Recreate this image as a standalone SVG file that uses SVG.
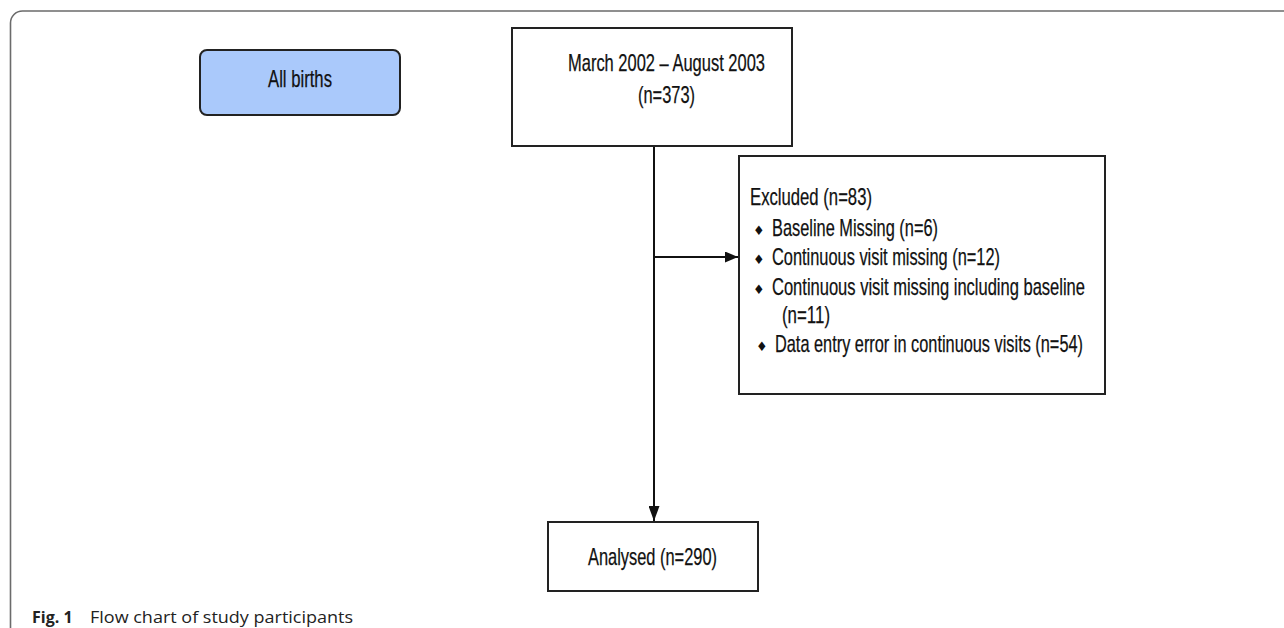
<svg xmlns="http://www.w3.org/2000/svg" width="1284" height="628" viewBox="0 0 1284 628">
  <defs>
    <style>
      .box { fill: #ffffff; stroke: #222222; stroke-width: 2; }
      .blue { fill: #aac9fb; stroke: #222222; stroke-width: 2; }
      .t { font-family: "Liberation Sans", Arial, sans-serif; font-size: 24px; fill: #111111; stroke: #111111; stroke-width: 0.25; }
      .b { font-family: "DejaVu Sans", sans-serif; font-size: 13px; fill: #111111; }
      .edge { stroke: #111111; stroke-width: 2; fill: none; }
      .cap { font-family: "Open Sans", "Noto Sans", sans-serif; font-size: 16px; fill: #222222; }
    </style>
    <marker id="ah" viewBox="0 0 13 11" refX="13" refY="5.5" markerWidth="13" markerHeight="11" markerUnits="userSpaceOnUse" orient="auto">
      <path d="M0,0 L13,5.5 L0,11 z" fill="#111111"/>
    </marker>
    <marker id="ah2" viewBox="0 0 15 11" refX="15" refY="5.5" markerWidth="15" markerHeight="11" markerUnits="userSpaceOnUse" orient="auto">
      <path d="M0,0 L15,5.5 L0,11 z" fill="#111111"/>
    </marker>
  </defs>
  <rect x="0" y="0" width="1284" height="628" fill="#ffffff"/>
  <g id="frame">
    <path d="M10.5,628 V23 A12,12 0 0 1 22.5,11 H1284" fill="none" stroke="#6b6b6b" stroke-width="1.6"/>
  </g>
  <g id="connectors">
    <line class="edge" x1="654" y1="146" x2="654" y2="521" marker-end="url(#ah2)"/>
    <line class="edge" x1="654" y1="257" x2="738" y2="257" marker-end="url(#ah)"/>
  </g>
  <g id="all-births">
    <rect class="blue" x="200" y="50" width="200" height="65" rx="7"/>
    <text class="t" x="268" y="87" textLength="64" lengthAdjust="spacingAndGlyphs">All births</text>
  </g>
  <g id="start">
    <rect class="box" x="512" y="28" width="280" height="118"/>
    <text class="t" x="568" y="71" textLength="197" lengthAdjust="spacingAndGlyphs">March 2002 – August 2003</text>
    <text class="t" x="638" y="103" textLength="57" lengthAdjust="spacingAndGlyphs">(n=373)</text>
  </g>
  <g id="excluded">
    <rect class="box" x="739" y="156" width="366" height="238"/>
    <text class="t" x="750" y="205" textLength="122" lengthAdjust="spacingAndGlyphs">Excluded (n=83)</text>
    <text class="b" x="753" y="235">♦</text>
    <text class="t" x="772" y="236" textLength="166" lengthAdjust="spacingAndGlyphs">Baseline Missing (n=6)</text>
    <text class="b" x="753" y="264">♦</text>
    <text class="t" x="772" y="265" textLength="228" lengthAdjust="spacingAndGlyphs">Continuous visit missing (n=12)</text>
    <text class="b" x="753" y="294">♦</text>
    <text class="t" x="772" y="295" textLength="313" lengthAdjust="spacingAndGlyphs">Continuous visit missing including baseline</text>
    <text class="t" x="782" y="323" textLength="48" lengthAdjust="spacingAndGlyphs">(n=11)</text>
    <text class="b" x="756" y="351">♦</text>
    <text class="t" x="775" y="352" textLength="308" lengthAdjust="spacingAndGlyphs">Data entry error in continuous visits (n=54)</text>
  </g>
  <g id="analysed">
    <rect class="box" x="548" y="522" width="210" height="69"/>
    <text class="t" x="588" y="565" textLength="129" lengthAdjust="spacingAndGlyphs">Analysed (n=290)</text>
  </g>
  <g id="caption">
    <text class="cap" x="32" y="623"><tspan font-weight="bold">Fig. 1</tspan><tspan x="90" textLength="263" lengthAdjust="spacingAndGlyphs">Flow chart of study participants</tspan></text>
  </g>
</svg>
